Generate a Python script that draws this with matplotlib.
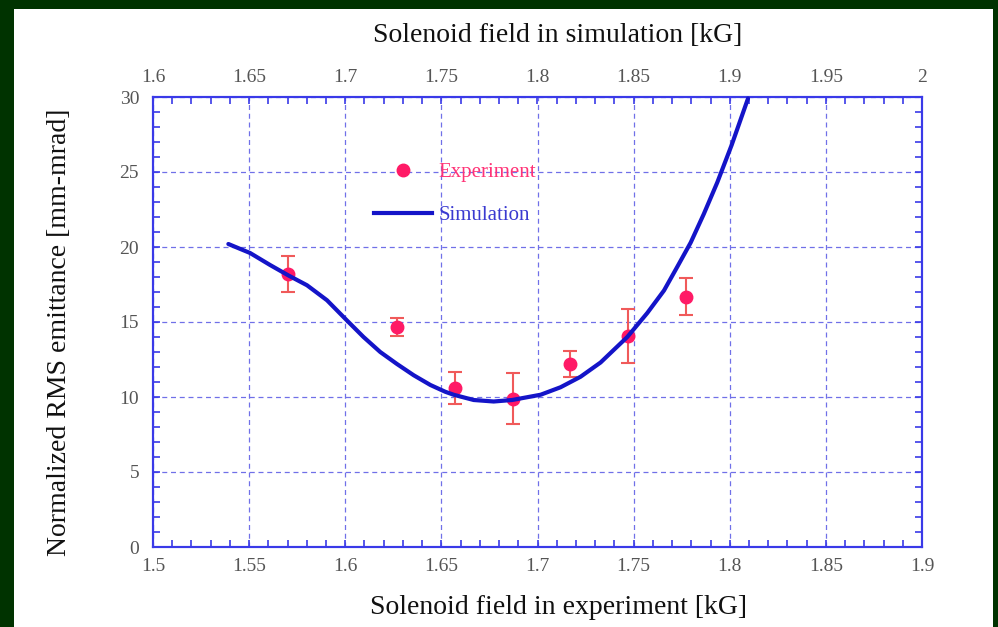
import matplotlib
matplotlib.use("Agg")
import matplotlib.pyplot as plt
from matplotlib.patches import Rectangle
from matplotlib.lines import Line2D
from matplotlib.ticker import MultipleLocator, FuncFormatter

# Experimental data (bottom axis: solenoid field in experiment, kG)
exp_field = [1.570, 1.627, 1.657, 1.687, 1.717, 1.747, 1.777]
exp_emit = [18.2, 14.7, 10.6, 9.9, 12.2, 14.1, 16.7]
exp_err = [1.2, 0.6, 1.05, 1.7, 0.85, 1.8, 1.25]

# Simulation curve (top axis: solenoid field in simulation, kG)
sim_field = [1.6392, 1.6505, 1.6609, 1.6705, 1.6801, 1.6905, 1.7009, 1.7095,
             1.7182, 1.7269, 1.7356, 1.7443, 1.7520, 1.7564, 1.7668, 1.7772,
             1.7868, 1.8016, 1.8120, 1.8224, 1.8328, 1.8467, 1.8571, 1.8658,
             1.8728, 1.8797, 1.8865, 1.8935, 1.9010, 1.9095]
sim_emit = [20.2, 19.6, 18.8, 18.1, 17.45, 16.45, 15.1, 14.0,
            13.0, 12.2, 11.45, 10.8, 10.35, 10.15, 9.8, 9.7,
            9.8, 10.15, 10.65, 11.35, 12.3, 14.0, 15.6, 17.1,
            18.7, 20.3, 22.2, 24.3, 26.8, 29.9]

x_ticks_bottom = [1.5, 1.55, 1.6, 1.65, 1.7, 1.75, 1.8, 1.85, 1.9]
x_ticks_top = [1.6, 1.65, 1.7, 1.75, 1.8, 1.85, 1.9, 1.95, 2.0]
y_ticks = [0, 5, 10, 15, 20, 25, 30]

W, H = 998, 627
fig = plt.figure(figsize=(W / 100, H / 100), dpi=100, facecolor="#003300")
fig.patches.append(Rectangle((14 / W, 0), (993 - 14) / W, 1 - 9 / H,
                             transform=fig.transFigure, facecolor="white",
                             edgecolor="none", zorder=0))

ax = fig.add_axes([153 / W, 1 - 547 / H, (922 - 153) / W, (547 - 97) / H])
ax.set_facecolor("white")
ax.set_zorder(2)

spine_col = "#3a3ae8"
grid_col = "#7070e8"
tick_lab_col = "#555555"
serif = ["Liberation Serif", "DejaVu Serif"]

ax.set_xlim(1.5, 1.9)
ax.set_ylim(0, 30)
ax.set_xticks(x_ticks_bottom)
ax.set_yticks(y_ticks)
ax.xaxis.set_minor_locator(MultipleLocator(0.01))
ax.yaxis.set_minor_locator(MultipleLocator(1))
fmt = FuncFormatter(lambda v, p: f"{v:g}")
ax.xaxis.set_major_formatter(fmt)
ax.yaxis.set_major_formatter(fmt)
ax.grid(True, which="major", color=grid_col, linestyle=(0, (4, 3)), linewidth=0.9)
for s in ax.spines.values():
    s.set_color(spine_col)
    s.set_linewidth(1.5)
ax.tick_params(which="both", direction="in", color=spine_col, width=1.2,
               labelcolor=tick_lab_col, labelsize=14, right=True)
ax.tick_params(which="major", length=5, pad=8)
ax.tick_params(which="minor", length=5)
ax.tick_params(axis="y", pad=10)
for lab in ax.get_xticklabels() + ax.get_yticklabels():
    lab.set_family(serif)

ax2 = ax.twiny()
ax2.set_xlim(1.6, 2.0)
ax2.set_xticks(x_ticks_top)
ax2.xaxis.set_minor_locator(MultipleLocator(0.01))
ax2.xaxis.set_major_formatter(fmt)
ax2.tick_params(which="both", direction="in", color=spine_col, width=1.2,
                labelcolor=tick_lab_col, labelsize=14, length=5, pad=8)
for lab in ax2.get_xticklabels():
    lab.set_family(serif)
for s in ax2.spines.values():
    s.set_color(spine_col)
    s.set_linewidth(1.5)

ax2.plot(sim_field, sim_emit, color="#1414c8", linewidth=3.0,
         solid_capstyle="round", solid_joinstyle="round", label="Simulation",
         clip_on=False, zorder=3)
ax.errorbar(exp_field, exp_emit, yerr=exp_err, fmt="o", color="#ff1a66",
            markersize=9, ecolor="#f05a5a", elinewidth=1.5, capsize=5,
            capthick=1.5, label="Experiment", zorder=4)

h_exp = Line2D([], [], marker="o", linestyle="none", color="#ff1a66", markersize=9)
h_sim = Line2D([], [], color="#1414c8", linewidth=3.0)
ax2.legend([h_exp, h_sim], ["Experiment", "Simulation"], loc="upper left",
           bbox_to_anchor=((355 - 153) / (922 - 153), 1 - (144 - 97) / (547 - 97)),
           frameon=False, handlelength=2.8, handletextpad=0.3, labelspacing=1.1,
           prop={"family": serif, "size": 15},
           labelcolor=["#ff3377", "#3a3ad0"])

fig.text(558 / W, 1 - 35 / H, "Solenoid field in simulation [kG]", ha="center",
         va="center", family=serif, fontsize=20, color="#111111")
fig.text(558 / W, 1 - 607 / H, "Solenoid field in experiment [kG]", ha="center",
         va="center", family=serif, fontsize=20, color="#111111")
fig.text(60 / W, 1 - 332 / H, "Normalized RMS emittance [mm-mrad]", ha="center",
         va="center", rotation=90, family=serif, fontsize=20, color="#111111")

fig.savefig("out.png", dpi=100, facecolor=fig.get_facecolor())
